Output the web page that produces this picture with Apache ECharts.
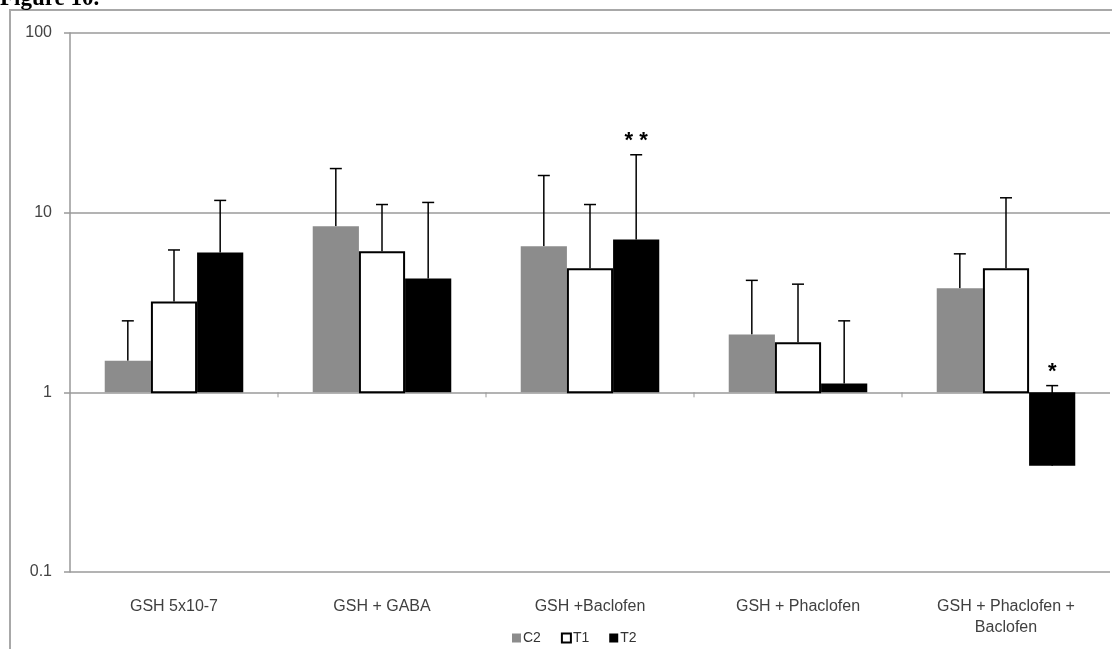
<!DOCTYPE html>
<html><head><meta charset="utf-8">
<script src="https://cdn.jsdelivr.net/npm/echarts@6/dist/echarts.min.js"></script>
<style>html,body{margin:0;padding:0;background:#fff}#c{width:1112px;height:649px}</style>
</head><body><div id="c"></div>
<script>
const categories = ['GSH 5x10-7', 'GSH + GABA', 'GSH +Baclofen', 'GSH + Phaclofen', 'GSH + Phaclofen +\nBaclofen'];
const c2 = [1.5, 8.4, 6.5, 2.1, 3.8];
const t1 = [3.2, 6.1, 4.9, 1.9, 4.9];
const t2 = [6.0, 4.3, 7.1, 1.12, 0.39];
const c2ErrTop = [2.5, 17.6, 16.1, 4.2, 5.9];
const t1ErrTop = [6.2, 11.1, 11.1, 4.0, 12.1];
const t2ErrTop = [11.7, 11.4, 21.0, 2.5, 1.09];
const t2Sig = ['', '', '* *', '', '*'];
const yTicks = [0.1, 1, 10, 100];

const seriesDefs = [
  {name: 'C2', vals: c2, err: c2ErrTop, fill: '#8c8c8c', stroke: '#8c8c8c', bw: 0, sig: null},
  {name: 'T1', vals: t1, err: t1ErrTop, fill: '#ffffff', stroke: '#000000', bw: 2, sig: null},
  {name: 'T2', vals: t2, err: t2ErrTop, fill: '#000000', stroke: '#000000', bw: 0, sig: t2Sig}
];

function makeRender(k, def) {
  return function (params, api) {
    const ci = api.value(0), v = api.value(1), e = api.value(2);
    const bandW = api.size([1, 1])[0];
    const bw = bandW * 0.222;
    const base = api.coord([ci, 1]);
    const top = api.coord([ci, v]);
    const et = api.coord([ci, e]);
    const cx = base[0] + (k - 1) * bw;
    const children = [];
    const lineStyle = {stroke: '#000', lineWidth: 1.5};
    children.push({type: 'line', shape: {x1: cx, y1: top[1], x2: cx, y2: et[1]}, style: lineStyle});
    children.push({type: 'line', shape: {x1: cx - 6, y1: et[1], x2: cx + 6, y2: et[1]}, style: lineStyle});
    const y0 = Math.min(base[1], top[1]);
    const h = Math.abs(base[1] - top[1]);
    const inset = def.bw ? def.bw / 2 : 0;
    children.push({type: 'rect', shape: {x: cx - bw / 2 + inset, y: y0 + (top[1] < base[1] ? inset : 0), width: bw - 2 * inset, height: h - inset},
      style: {fill: def.fill, stroke: def.bw ? def.stroke : null, lineWidth: def.bw}});
    if (def.sig && def.sig[ci]) {
      children.push({type: 'text', style: {text: def.sig[ci], x: cx, y: et[1] - 3, align: 'center', verticalAlign: 'bottom',
        font: 'bold 22px "Liberation Sans"', fill: '#000'}});
    }
    if (k === 0 && ci > 0) {
      const bx = base[0] - bandW / 2;
      children.push({type: 'line', shape: {x1: bx, y1: base[1], x2: bx, y2: base[1] + 5}, style: {stroke: '#999', lineWidth: 1}});
    }
    return {type: 'group', children: children};
  };
}

const series = seriesDefs.map((d, k) => ({
  name: d.name,
  type: 'custom',
  renderItem: makeRender(k, d),
  itemStyle: {color: d.fill, borderColor: d.stroke, borderWidth: d.bw ? 1.5 : 0},
  encode: {x: 0, y: 1},
  clip: false,
  data: d.vals.map((v, i) => [i, v, d.err[i]]),
  z: 10
}));

const chart = echarts.init(document.getElementById('c'), null, {renderer: 'canvas'});
chart.setOption({
  animation: false,
  backgroundColor: '#fff',
  textStyle: {fontFamily: '"Liberation Sans", Arial, sans-serif'},
  graphic: [
    {type: 'rect', shape: {x: 10, y: 10, width: 1300, height: 800}, style: {fill: null, stroke: '#a8a8a8', lineWidth: 2}, z: 0},
    {type: 'text', x: 0, y: -1, style: {text: 'Figure 10.', font: 'bold 23px "Liberation Serif"', fill: '#000', verticalAlign: 'middle'}, z: 100}
  ],
  grid: {left: 70, right: 2, top: 33, bottom: 77, containLabel: false},
  legend: {
    data: ['C2', 'T1', 'T2'],
    left: 507, top: 626,
    icon: 'rect', itemWidth: 9, itemHeight: 9, itemGap: 20,
    textStyle: {fontSize: 14, color: '#333', padding: [0, 0, 0, -3]}
  },
  xAxis: {
    type: 'category', data: categories,
    axisLine: {show: false}, axisTick: {show: false},
    axisLabel: {color: '#404040', fontSize: 16, margin: 24, lineHeight: 21, interval: 0}
  },
  yAxis: {
    type: 'log', logBase: 10, min: 0.1, max: 100,
    axisLine: {show: true, lineStyle: {color: '#999', width: 1.5}},
    axisTick: {show: true, length: 6, lineStyle: {color: '#999', width: 1.5}},
    axisLabel: {color: '#444', fontSize: 16, margin: 18, formatter: v => { const t = yTicks.find(x => Math.abs(x - v) < 1e-9 * Math.max(1, v)); return t !== undefined ? String(t) : ''; }},
    splitLine: {show: true, lineStyle: {color: '#9a9a9a', width: 1.5}}
  },
  series: series
});
</script></body></html>
